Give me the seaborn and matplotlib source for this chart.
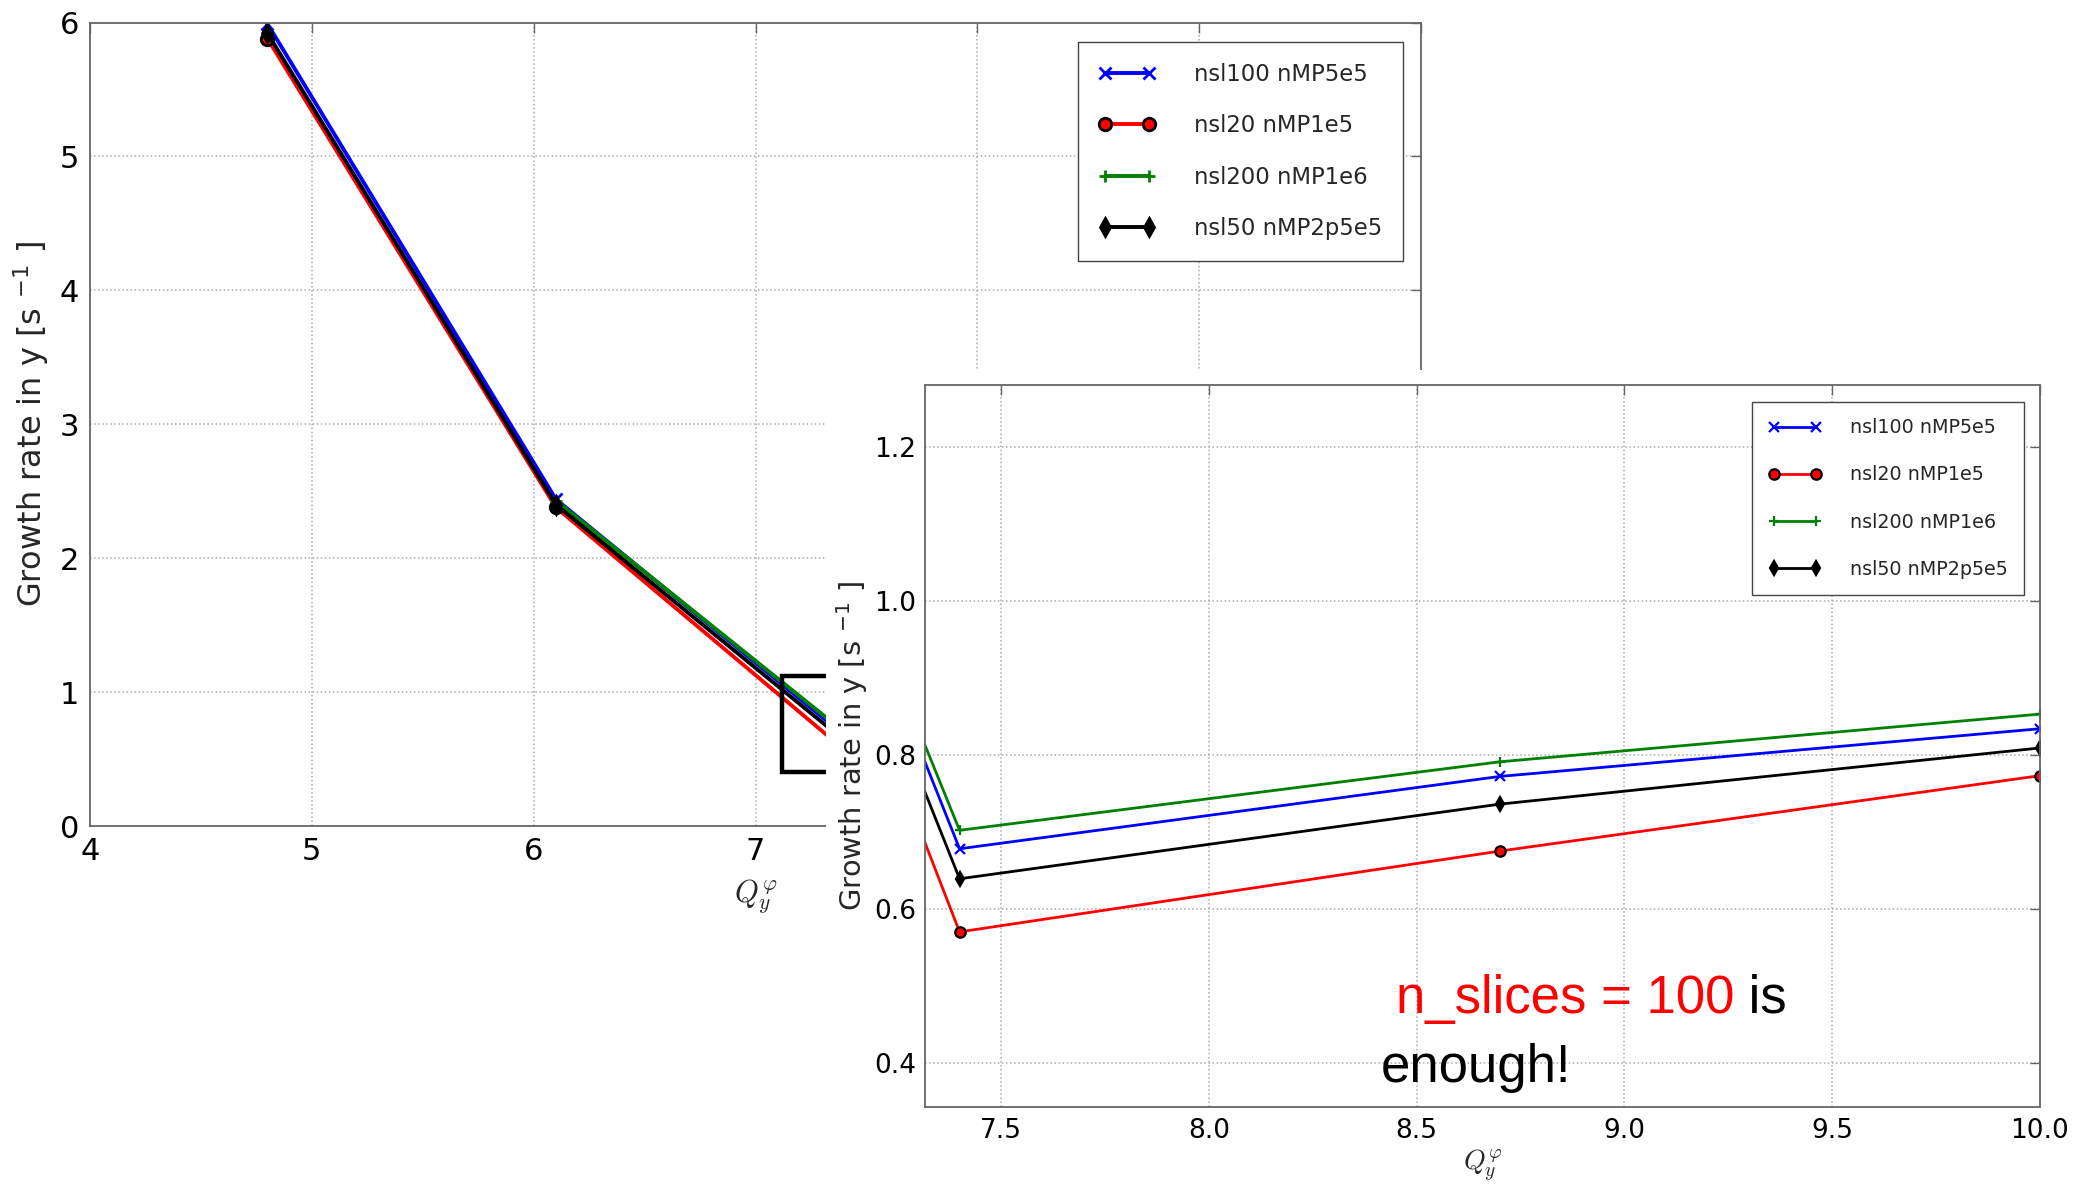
import numpy as np
import pandas as pd
import matplotlib
matplotlib.use("Agg")
import matplotlib.pyplot as plt
import seaborn as sns
from matplotlib.patches import Rectangle

# ---------------- data ----------------
qy = [4.8, 6.1, 7.4, 8.7, 10.0]
series_labels = ["nsl100 nMP5e5", "nsl20 nMP1e5", "nsl200 nMP1e6", "nsl50 nMP2p5e5"]
rate_nsl100 = [5.99, 2.44, 0.678, 0.772, 0.834]
rate_nsl20 = [5.88, 2.38, 0.570, 0.675, 0.773]
rate_nsl200 = [np.nan, 2.43, 0.702, 0.791, 0.853]
rate_nsl50 = [5.92, 2.40, 0.639, 0.736, 0.809]

main_xticks = [4, 5, 6, 7, 8, 9, 10]
main_yticks = [0, 1, 2, 3, 4, 5, 6]
inset_xticks = [7.5, 8.0, 8.5, 9.0, 9.5, 10.0]
inset_yticks = [0.4, 0.6, 0.8, 1.0, 1.2]
zoom_box = (7.12, 0.40, 3.5, 0.72)

colors = ["blue", "red", "green", "black"]
markers = ["x", "o", "+", "d"]
mecs = ["blue", "black", "green", "black"]

rows = []
for lab, vals in zip(series_labels, [rate_nsl100, rate_nsl20, rate_nsl200, rate_nsl50]):
    for q, v in zip(qy, vals):
        rows.append({"Qy": q, "rate": v, "series": lab})
df = pd.DataFrame(rows).dropna()

sns.set_theme(style="white")
plt.rcParams["font.family"] = ["DejaVu Sans"]
plt.rcParams["legend.fancybox"] = False
plt.rcParams["legend.framealpha"] = 1.0
plt.rcParams["legend.edgecolor"] = "#444444"

fig = plt.figure(figsize=(20.73, 11.88), dpi=100)
fig.patch.set_facecolor("white")


def style_axes(ax, tick_size):
    ax.grid(True, linestyle=":", color="#aaaaaa", linewidth=1.1)
    for s in ax.spines.values():
        s.set_color("#666666")
        s.set_linewidth(1.3)
    ax.tick_params(direction="in", top=True, right=True, length=7, width=1,
                   color="#666666", labelsize=tick_size, labelcolor="black")


def draw_series(ax, lw, ms, mew):
    for lab, c, m, mec in zip(series_labels, colors, markers, mecs):
        sub = df[df["series"] == lab]
        sns.lineplot(data=sub, x="Qy", y="rate", ax=ax, color=c, marker=m,
                     markersize=ms, markeredgecolor=mec, markeredgewidth=mew,
                     markerfacecolor=c, linewidth=lw, label=lab,
                     errorbar=None, sort=True)


# ---------------- main axes ----------------
ax = fig.add_axes([0.04342, 0.3047, 0.6421, 0.6763])
ax.set_zorder(0)
draw_series(ax, lw=2.8, ms=9, mew=2.0)
ax.set_xlim(4, 10)
ax.set_ylim(0, 6)
ax.set_xticks(main_xticks)
ax.set_yticks(main_yticks)
style_axes(ax, 22)
ax.tick_params(axis="x", pad=8)
ax.tick_params(axis="y", pad=8)
ax.set_xlabel(r"$Q_y^\varphi$", fontsize=22, math_fontfamily="cm", labelpad=8)
ax.set_ylabel(r"Growth rate in y [s $^{-1}$ ]", fontsize=23,
              math_fontfamily="dejavusans", labelpad=6)
ax.add_patch(Rectangle(zoom_box[:2], zoom_box[2], zoom_box[3], fill=False,
                       edgecolor="black", linewidth=3.2, zorder=5))
h, l = ax.get_legend_handles_labels()
ax.legend(h, l, loc="upper right", bbox_to_anchor=(0.9865, 0.9757),
          borderaxespad=0, numpoints=2, fontsize=16.4, handlelength=2.55,
          handletextpad=1.68, borderpad=0.9, labelspacing=1.25)

# white cover where the zoomed view sits
cover = Rectangle((826 / 2073, 0), 1 - 826 / 2073, 1 - 370 / 1188,
                  transform=fig.transFigure, facecolor="white",
                  edgecolor="none", zorder=1)
fig.add_artist(cover)

# ---------------- inset axes ----------------
ax2 = fig.add_axes([0.44645, 0.06852, 0.53763, 0.60766])
ax2.set_zorder(2)
draw_series(ax2, lw=2.0, ms=7.5, mew=1.6)
ax2.set_xlim(7.318, 10.0)
ax2.set_ylim(0.343, 1.281)
ax2.set_xticks(inset_xticks)
ax2.set_yticks(inset_yticks)
ax2.set_xticklabels([f"{v:.1f}" for v in inset_xticks])
ax2.set_yticklabels([f"{v:.1f}" for v in inset_yticks])
style_axes(ax2, 19)
ax2.tick_params(axis="x", pad=8)
ax2.tick_params(axis="y", pad=7)
ax2.set_xlabel(r"$Q_y^\varphi$", fontsize=20, math_fontfamily="cm", labelpad=3)
ax2.set_ylabel(r"Growth rate in y [s $^{-1}$ ]", fontsize=20.8,
               math_fontfamily="dejavusans", labelpad=3)
h2, l2 = ax2.get_legend_handles_labels()
ax2.legend(h2, l2, loc="upper right", bbox_to_anchor=(0.9857, 0.976),
           borderaxespad=0, numpoints=2, fontsize=13.8, handlelength=2.75,
           handletextpad=1.5, borderpad=0.85, labelspacing=1.47)

# ---------------- annotation text ----------------
t1 = fig.text(0.6732, 1 - 1012.7 / 1188, "n_slices = 100", color="red",
              fontsize=38, family=["Liberation Sans", "DejaVu Sans"],
              va="baseline", ha="left", zorder=10)
ann = ax2.annotate(" is", xy=(1, 0), xycoords=t1, va="bottom", ha="left",
                   fontsize=38, family=["Liberation Sans", "DejaVu Sans"],
                   color="black", annotation_clip=False, zorder=10)
fig.text(0.6662, 1 - 1081.7 / 1188, "enough!", color="black",
         fontsize=38, family=["Liberation Sans", "DejaVu Sans"],
         va="baseline", ha="left", zorder=10)

fig.savefig("out.png", dpi=100, facecolor="white")
